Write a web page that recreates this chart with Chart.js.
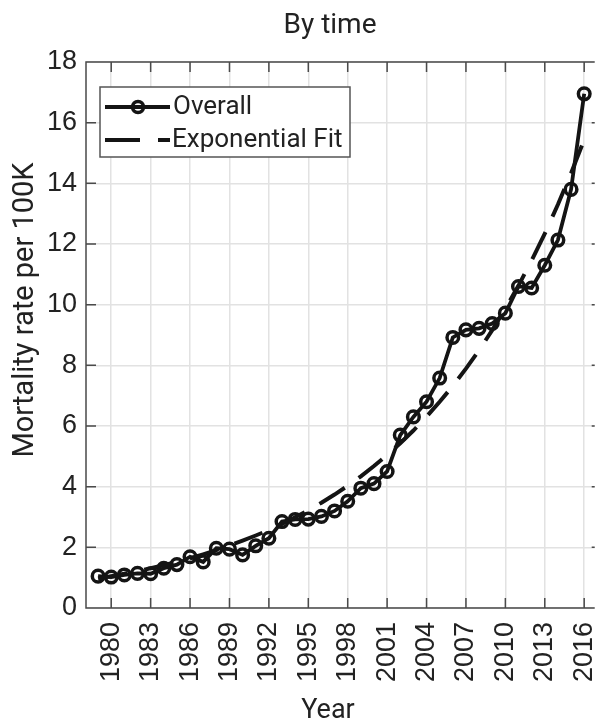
<!DOCTYPE html>
<html><head><meta charset="utf-8">
<script src="https://cdn.jsdelivr.net/npm/chart.js@4.4.0/dist/chart.umd.min.js"></script>
<style>html,body{margin:0;padding:0;background:#fff;} #wrap{width:604px;height:724px;}</style>
</head><body><div id="wrap"><canvas id="c" width="604" height="724"></canvas></div>
<script>
const chartTitle = 'By time';
const xAxisTitle = 'Year';
const yAxisTitle = 'Mortality rate per 100K';
const seriesNames = ['Overall', 'Exponential Fit'];

const years = [1979,1980,1981,1982,1983,1984,1985,1986,1987,1988,1989,1990,1991,1992,
  1993,1994,1995,1996,1997,1998,1999,2000,2001,2002,2003,2004,2005,2006,
  2007,2008,2009,2010,2011,2012,2013,2014,2015,2016];
const overall = [1.05,1.02,1.09,1.14,1.13,1.31,1.43,1.69,1.52,1.97,1.94,1.75,2.05,2.3,
  2.85,2.92,2.93,3.02,3.2,3.52,3.95,4.1,4.5,5.7,6.3,6.8,7.58,8.92,
  9.17,9.22,9.38,9.72,10.6,10.55,11.3,12.13,13.8,16.95];
const expFit = [0.97,1.05,1.13,1.22,1.31,1.41,1.52,1.64,1.77,1.91,2.06,2.22,2.39,2.57,
  2.77,2.99,3.22,3.47,3.74,4.03,4.34,4.68,5.04,5.43,5.85,6.31,6.80,7.32,
  7.89,8.50,9.16,9.87,10.63,11.46,12.34,13.30,14.33,15.44];
const xTickLabels = [1980,1983,1986,1989,1992,1995,1998,2001,2004,2007,2010,2013,2016];
const yTickLabels = [0,2,4,6,8,10,12,14,16,18];

const TICKFONT = "'Liberation Sans',Arial,sans-serif";
const SANS = "Roboto,'Liberation Sans',Arial,sans-serif";
const INK = '#141414';
const TXT = '#222222';

const framePlugin = {
  id: 'frame',
  beforeDatasetsDraw(chart) {
    const {ctx, chartArea: a, scales: {x, y}} = chart;
    ctx.save();
    ctx.strokeStyle = '#4a4a4a';
    ctx.lineWidth = 1.5;
    ctx.beginPath();
    ctx.moveTo(a.right, a.top); ctx.lineTo(a.left, a.top);
    ctx.lineTo(a.left, a.bottom); ctx.lineTo(a.right, a.bottom);
    xTickLabels.forEach(v => {
      const px = x.getPixelForValue(v);
      ctx.moveTo(px, a.bottom); ctx.lineTo(px, a.bottom - 10);
      ctx.moveTo(px, a.top); ctx.lineTo(px, a.top + 10);
    });
    yTickLabels.forEach(v => {
      const py = y.getPixelForValue(v);
      ctx.moveTo(a.left, py); ctx.lineTo(a.left + 10, py);
      ctx.moveTo(a.right, py); ctx.lineTo(a.right - 3, py);
    });
    ctx.stroke();
    ctx.restore();
  },
  afterDraw(chart) {
    const {ctx} = chart;
    ctx.save();
    ctx.fillStyle = TXT;
    // chart title
    ctx.font = '28px ' + SANS;
    ctx.textAlign = 'center';
    ctx.textBaseline = 'alphabetic';
    ctx.fillText(chartTitle, 330, 33);
    // x title
    ctx.font = '27px ' + SANS;
    ctx.fillText(xAxisTitle, 328, 718);
    // y title
    ctx.save();
    ctx.translate(26, 310);
    ctx.rotate(-Math.PI / 2);
    ctx.font = '29px ' + SANS;
    ctx.textBaseline = 'middle';
    ctx.fillText(yAxisTitle, 0, 0);
    ctx.restore();

    // legend
    const lx = 100, ly = 87, lw = 250, lh = 70;
    ctx.fillStyle = '#ffffff';
    ctx.fillRect(lx, ly, lw, lh);
    ctx.strokeStyle = '#555555';
    ctx.lineWidth = 1.5;
    ctx.strokeRect(lx, ly, lw, lh);
    const r1 = 107, r2 = 140;
    ctx.strokeStyle = INK;
    ctx.lineWidth = 4;
    ctx.beginPath(); ctx.moveTo(105, r1); ctx.lineTo(170, r1); ctx.stroke();
    ctx.lineWidth = 3.5;
    ctx.beginPath(); ctx.arc(138, r1, 5.5, 0, Math.PI * 2); ctx.stroke();
    ctx.lineWidth = 4;
    ctx.setLineDash([35, 18]);
    ctx.beginPath(); ctx.moveTo(105, r2); ctx.lineTo(170, r2); ctx.stroke();
    ctx.setLineDash([]);
    ctx.fillStyle = TXT;
    ctx.font = '26px ' + SANS;
    ctx.textAlign = 'left';
    ctx.textBaseline = 'middle';
    ctx.fillText(seriesNames[0], 173, r1);
    ctx.fillText(seriesNames[1], 172, r2);
    ctx.restore();
  }
};

new Chart(document.getElementById('c').getContext('2d'), {
  type: 'line',
  data: {
    datasets: [
      {
        label: seriesNames[1],
        data: years.map((t, i) => ({x: t, y: expFit[i]})),
        borderColor: INK, borderWidth: 4, borderDash: [30, 17],
        pointRadius: 0, fill: false, tension: 0, order: 0
      },
      {
        label: seriesNames[0],
        data: years.map((t, i) => ({x: t, y: overall[i]})),
        borderColor: INK, borderWidth: 3.8,
        pointRadius: 5.8, pointBorderWidth: 3.5,
        pointBackgroundColor: 'rgba(0,0,0,0)', pointBorderColor: INK,
        fill: false, tension: 0, order: 1
      }
    ]
  },
  options: {
    responsive: false, animation: false, devicePixelRatio: 1,
    layout: {padding: {top: 62, right: 0, left: 0, bottom: 0}},
    plugins: {legend: {display: false}, title: {display: false}, tooltip: {enabled: false}},
    scales: {
      x: {
        type: 'linear', min: 1978.08, max: 2016.8,
        afterBuildTicks: s => { s.ticks = xTickLabels.map(v => ({value: v})); },
        afterFit: s => { s.height = 116; s.paddingLeft = 0; s.paddingRight = 0; },
        grid: {color: '#e2e2e2', lineWidth: 1.5, drawTicks: false},
        border: {display: false},
        ticks: {minRotation: 90, maxRotation: 90, padding: 14, autoSkip: false,
          font: {family: TICKFONT, size: 27}, color: TXT, callback: v => String(v)}
      },
      y: {
        min: 0, max: 18,
        afterBuildTicks: s => { s.ticks = yTickLabels.map(v => ({value: v})); },
        afterFit: s => { s.width = 86; s.paddingTop = 0; s.paddingBottom = 0; },
        grid: {color: '#e2e2e2', lineWidth: 1.5, drawTicks: false},
        border: {display: false},
        ticks: {padding: 9, autoSkip: false, font: {family: TICKFONT, size: 27}, color: TXT,
          callback: v => String(v)}
      }
    }
  },
  plugins: [framePlugin]
});
</script>
</body></html>
